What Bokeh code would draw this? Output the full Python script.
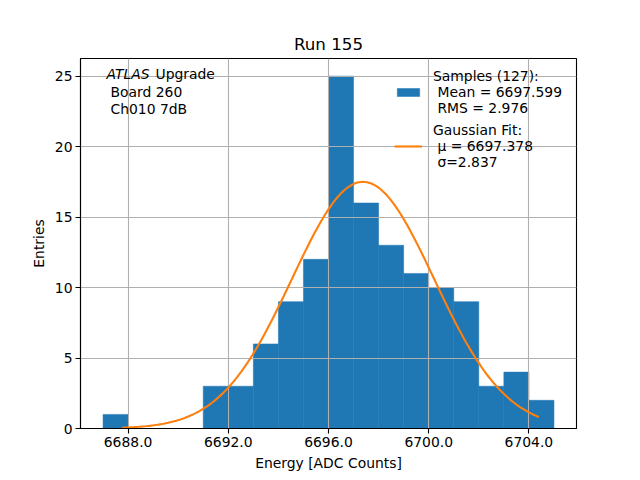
# Histogram of sample energies with a gaussian fit (Bokeh version)
import numpy as np
from bokeh.plotting import figure
from bokeh.models import (FixedTicker, Legend, LegendItem, Label, Range1d,
                          NumeralTickFormatter)
from bokeh.embed import file_html
from bokeh.resources import INLINE

########################################################################################################################
# Data

bin_left = [6687, 6691, 6692, 6693, 6694, 6695, 6696, 6697, 6698, 6699, 6700, 6701, 6702, 6703, 6704]
counts = [1, 3, 3, 6, 9, 12, 25, 16, 13, 11, 10, 9, 3, 4, 2]
bin_width = 1.0

n_samples = 127
mean = 6697.599
rms = 2.976

fit_mu = 6697.378
fit_sigma = 2.837
fit_amp = 17.5
fit_x_min = 6687.75
fit_x_max = 6704.4

x_ticks = [6688, 6692, 6696, 6700, 6704]
y_ticks = [0, 5, 10, 15, 20, 25]

FONT = "DejaVu Sans"
BLUE = "#1f77b4"
ORANGE = "#ff7f0e"

########################################################################################################################
# Figure

p = figure(frame_width=496, frame_height=370,
           min_border_left=80, min_border_right=56, min_border_top=58, min_border_bottom=44,
           x_range=Range1d(6686.1, 6705.9), y_range=Range1d(0, 26.25),
           title="Run 155", output_backend="svg", toolbar_location=None,
           background_fill_color="white", border_fill_color="white")

p.title.align = "center"
p.title.text_font = FONT
p.title.text_font_size = "16.7px"
p.title.text_font_style = "normal"
p.title.text_color = "black"

p.outline_line_color = "black"
p.outline_line_width = 1.1
p.outline_line_alpha = 1.0

# histogram bars, drawn under the grid like matplotlib does
bin_right = [b + bin_width for b in bin_left]
bars = p.quad(left=bin_left, right=bin_right, bottom=0, top=counts,
              fill_color=BLUE, line_color=BLUE, line_width=0.5)
bars.level = "image"

# gaussian fit curve
fx = np.linspace(fit_x_min, fit_x_max, 200)
fy = fit_amp * np.exp(-(fx - fit_mu) ** 2 / (2 * fit_sigma ** 2))
fit = p.line(fx, fy, line_color=ORANGE, line_width=2.1)

# axes
for ax in (p.xaxis[0], p.yaxis[0]):
    ax.major_label_text_font = FONT
    ax.major_label_text_font_size = "13.9px"
    ax.major_label_text_color = "black"
    ax.axis_label_text_font = FONT
    ax.axis_label_text_font_size = "13.9px"
    ax.axis_label_text_font_style = "normal"
    ax.axis_label_text_color = "black"
    ax.axis_line_color = "black"
    ax.axis_line_width = 1.1
    ax.major_tick_line_color = "black"
    ax.major_tick_line_width = 1.1
    ax.major_tick_out = 5
    ax.major_tick_in = 0
    ax.minor_tick_line_color = None
    ax.major_label_standoff = 3
    ax.axis_label_standoff = 5

p.xaxis[0].ticker = FixedTicker(ticks=x_ticks)
p.xaxis[0].formatter = NumeralTickFormatter(format="0.0")
p.xaxis[0].axis_label = "Energy [ADC Counts]"
p.yaxis[0].ticker = FixedTicker(ticks=y_ticks)
p.yaxis[0].axis_label = "Entries"

p.grid.grid_line_color = "#b0b0b0"
p.grid.grid_line_width = 1.1

# legend
legend = Legend(items=[
    LegendItem(label="Samples (%d):\n Mean = %.3f\n RMS = %.3f" % (n_samples, mean, rms), renderers=[bars]),
    LegendItem(label="Gaussian Fit:\n μ = %.3f\n σ=%.3f" % (fit_mu, fit_sigma), renderers=[fit]),
], location="top_right", border_line_color=None, background_fill_alpha=0.0,
    label_text_font=FONT, label_text_font_size="13.9px", label_text_color="black",
    label_text_line_height=1.27,
    glyph_width=28, glyph_height=10, label_standoff=11, label_width=133,
    spacing=6, padding=5, margin=10)
p.add_layout(legend)

# text block top left
txt = dict(x_units="screen", y_units="screen", text_font=FONT, text_font_size="13.9px",
           text_color="black", text_baseline="middle")
p.add_layout(Label(x=26, y=355, text="ATLAS", text_font_style="italic", **txt))
p.add_layout(Label(x=75, y=355, text="Upgrade", **txt))
p.add_layout(Label(x=30, y=337, text="Board 260", **txt))
p.add_layout(Label(x=30, y=320, text="Ch010 7dB", **txt))

open("out.html", "w").write(file_html(p, INLINE))
